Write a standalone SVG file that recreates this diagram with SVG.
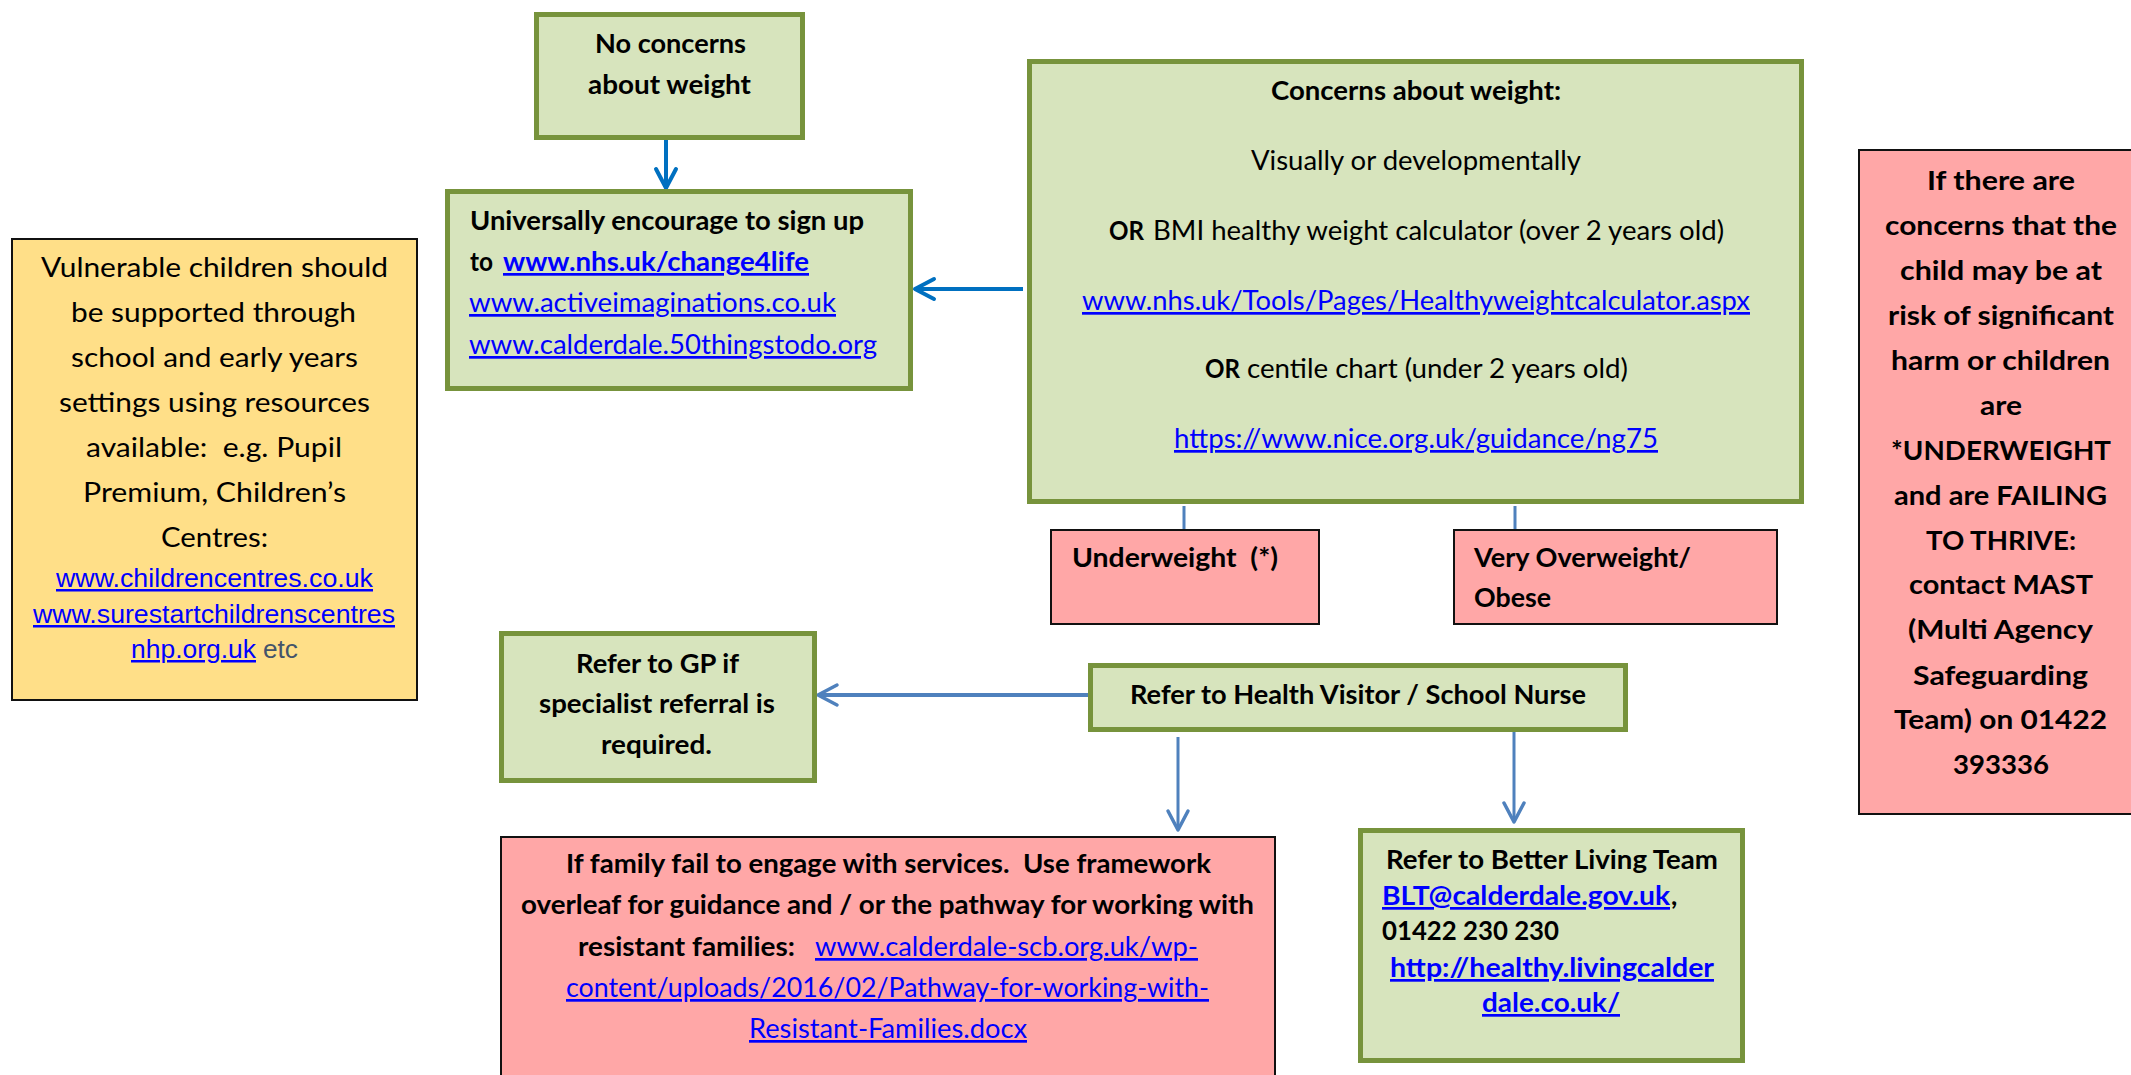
<svg xmlns="http://www.w3.org/2000/svg" width="2131" height="1075" viewBox="0 0 2131 1075">
<style>
.g{fill:#D7E4BD;stroke:#77933C;stroke-width:5}
.p{fill:#FFA7A7;stroke:#111;stroke-width:2}
.y{fill:#FFDF88;stroke:#111;stroke-width:2}
text{font-family:Lato,"Open Sans",sans-serif;font-size:27px;fill:#000}
.b{font-weight:700}
.l{fill:#0000FF;text-decoration:underline}
.a{font-family:"Liberation Sans",Arial,sans-serif;font-size:25px}
.c1{stroke:#0070C0;stroke-width:4;fill:none}
.c2{stroke:#4F81BD;stroke-width:4;fill:none}
.c3{stroke:#4F81BD;stroke-width:3;fill:none}
</style>
<defs>
<marker id="m1" markerUnits="userSpaceOnUse" viewBox="-25 -15 30 30" markerWidth="30" markerHeight="30" refX="0" refY="0" orient="auto" overflow="visible">
<path d="M-19,-10 L0,0 L-19,10" fill="none" stroke="#0070C0" stroke-width="4" stroke-linecap="round" stroke-linejoin="round"/>
</marker>
<marker id="m2" markerUnits="userSpaceOnUse" viewBox="-25 -15 30 30" markerWidth="30" markerHeight="30" refX="0" refY="0" orient="auto" overflow="visible">
<path d="M-19,-10 L0,0 L-19,10" fill="none" stroke="#4F81BD" stroke-width="3.5" stroke-linecap="round" stroke-linejoin="round"/>
</marker>
</defs>
<rect width="2131" height="1075" fill="#fff"/>

<g id="connectors">
<line class="c1" x1="666" y1="140" x2="666" y2="188" marker-end="url(#m1)"/>
<line class="c1" x1="1023" y1="289" x2="915" y2="289" marker-end="url(#m1)"/>
<line class="c3" x1="1184" y1="506" x2="1184" y2="529"/>
<line class="c3" x1="1515" y1="506" x2="1515" y2="529"/>
<line class="c2" x1="1088" y1="695" x2="818" y2="695" marker-end="url(#m2)"/>
<line class="c3" x1="1178" y1="737" x2="1178" y2="830" marker-end="url(#m2)"/>
<line class="c3" x1="1514" y1="732" x2="1514" y2="822" marker-end="url(#m2)"/>
</g>

<g id="no-concerns">
<rect class="g" x="536.5" y="14.5" width="266" height="123"/>
<text class="b" x="595" y="53" textLength="151" lengthAdjust="spacingAndGlyphs">No concerns</text>
<text class="b" x="588" y="94" textLength="163" lengthAdjust="spacingAndGlyphs">about weight</text>
</g>

<g id="universally">
<rect class="g" x="447.5" y="191.5" width="463" height="197"/>
<text class="b" x="470" y="230" textLength="394" lengthAdjust="spacingAndGlyphs">Universally encourage to sign up</text>
<text class="b" x="470" y="271" textLength="23" lengthAdjust="spacingAndGlyphs">to</text>
<text class="b l" x="503" y="271" textLength="306" lengthAdjust="spacingAndGlyphs">www.nhs.uk/change4life</text>
<text class="l" x="469" y="312" textLength="367" lengthAdjust="spacingAndGlyphs">www.activeimaginations.co.uk</text>
<text class="l" x="469" y="354" textLength="408" lengthAdjust="spacingAndGlyphs">www.calderdale.50thingstodo.org</text>
</g>

<g id="concerns">
<rect class="g" x="1029.5" y="61.5" width="772" height="440"/>
<text class="b" x="1271" y="100" textLength="290" lengthAdjust="spacingAndGlyphs">Concerns about weight:</text>
<text x="1251" y="170" textLength="330" lengthAdjust="spacingAndGlyphs">Visually or developmentally</text>
<text class="b" x="1109" y="240" textLength="35" lengthAdjust="spacingAndGlyphs">OR</text>
<text x="1153" y="240" textLength="571" lengthAdjust="spacingAndGlyphs">BMI healthy weight calculator (over 2 years old)</text>
<text class="l" x="1082" y="310" textLength="668" lengthAdjust="spacingAndGlyphs">www.nhs.uk/Tools/Pages/Healthyweightcalculator.aspx</text>
<text class="b" x="1205" y="378" textLength="35" lengthAdjust="spacingAndGlyphs">OR</text>
<text x="1247" y="378" textLength="381" lengthAdjust="spacingAndGlyphs">centile chart (under 2 years old)</text>
<text class="l" x="1174" y="448" textLength="484" lengthAdjust="spacingAndGlyphs">https://www.nice.org.uk/guidance/ng75</text>
</g>

<g id="vulnerable">
<rect class="y" x="12" y="239" width="405" height="461"/>
<text x="41" y="277" textLength="347" lengthAdjust="spacingAndGlyphs">Vulnerable children should</text>
<text x="71" y="322" textLength="285" lengthAdjust="spacingAndGlyphs">be supported through</text>
<text x="71" y="367" textLength="287" lengthAdjust="spacingAndGlyphs">school and early years</text>
<text x="59" y="412" textLength="311" lengthAdjust="spacingAndGlyphs">settings using resources</text>
<text x="86" y="457" textLength="256" lengthAdjust="spacingAndGlyphs" xml:space="preserve">available:  e.g. Pupil</text>
<text x="83" y="502" textLength="263" lengthAdjust="spacingAndGlyphs">Premium, Children’s</text>
<text x="161" y="547" textLength="107" lengthAdjust="spacingAndGlyphs">Centres:</text>
<text class="a l" x="56" y="587" textLength="317" lengthAdjust="spacingAndGlyphs">www.childrencentres.co.uk</text>
<text class="a l" x="33" y="623" textLength="362" lengthAdjust="spacingAndGlyphs">www.surestartchildrenscentres</text>
<text class="a l" x="131" y="658" textLength="125" lengthAdjust="spacingAndGlyphs">nhp.org.uk</text>
<text class="a" x="263" y="658" textLength="35" lengthAdjust="spacingAndGlyphs" style="fill:#44546A">etc</text>
</g>

<g id="mast">
<rect class="p" x="1859" y="150" width="290" height="664"/>
<text class="b" x="1927" y="190" textLength="148" lengthAdjust="spacingAndGlyphs">If there are</text>
<text class="b" x="1885" y="235" textLength="232" lengthAdjust="spacingAndGlyphs">concerns that the</text>
<text class="b" x="1900" y="280" textLength="202" lengthAdjust="spacingAndGlyphs">child may be at</text>
<text class="b" x="1888" y="325" textLength="226" lengthAdjust="spacingAndGlyphs">risk of significant</text>
<text class="b" x="1891" y="370" textLength="219" lengthAdjust="spacingAndGlyphs">harm or children</text>
<text class="b" x="1980" y="415" textLength="42" lengthAdjust="spacingAndGlyphs">are</text>
<text class="b" x="1891" y="460" textLength="220" lengthAdjust="spacingAndGlyphs">*UNDERWEIGHT</text>
<text class="b" x="1894" y="505" textLength="213" lengthAdjust="spacingAndGlyphs">and are FAILING</text>
<text class="b" x="1926" y="550" textLength="150" lengthAdjust="spacingAndGlyphs">TO THRIVE:</text>
<text class="b" x="1909" y="594" textLength="184" lengthAdjust="spacingAndGlyphs">contact MAST</text>
<text class="b" x="1908" y="639" textLength="185" lengthAdjust="spacingAndGlyphs">(Multi Agency</text>
<text class="b" x="1913" y="685" textLength="175" lengthAdjust="spacingAndGlyphs">Safeguarding</text>
<text class="b" x="1894" y="729" textLength="213" lengthAdjust="spacingAndGlyphs">Team) on 01422</text>
<text class="b" x="1953" y="774" textLength="96" lengthAdjust="spacingAndGlyphs">393336</text>
</g>

<g id="underweight">
<rect class="p" x="1051" y="530" width="268" height="94"/>
<text class="b" x="1072" y="567" textLength="206" lengthAdjust="spacingAndGlyphs" xml:space="preserve">Underweight  (*)</text>
</g>

<g id="overweight">
<rect class="p" x="1454" y="530" width="323" height="94"/>
<text class="b" x="1474" y="567" textLength="217" lengthAdjust="spacingAndGlyphs">Very Overweight/</text>
<text class="b" x="1474" y="607" textLength="77" lengthAdjust="spacingAndGlyphs">Obese</text>
</g>

<g id="gp">
<rect class="g" x="501.5" y="633.5" width="313" height="147"/>
<text class="b" x="576" y="673" textLength="163" lengthAdjust="spacingAndGlyphs">Refer to GP if</text>
<text class="b" x="539" y="713" textLength="236" lengthAdjust="spacingAndGlyphs">specialist referral is</text>
<text class="b" x="601" y="754" textLength="111" lengthAdjust="spacingAndGlyphs">required.</text>
</g>

<g id="health-visitor">
<rect class="g" x="1090.5" y="665.5" width="535" height="64"/>
<text class="b" x="1130" y="704" textLength="456" lengthAdjust="spacingAndGlyphs">Refer to Health Visitor / School Nurse</text>
</g>

<g id="family">
<rect class="p" x="501" y="837" width="774" height="250"/>
<text class="b" x="566" y="873" textLength="645" lengthAdjust="spacingAndGlyphs" xml:space="preserve">If family fail to engage with services.  Use framework</text>
<text class="b" x="521" y="914" textLength="733" lengthAdjust="spacingAndGlyphs">overleaf for guidance and / or the pathway for working with</text>
<text class="b" x="578" y="956" textLength="217" lengthAdjust="spacingAndGlyphs">resistant families:</text>
<text class="l" x="815" y="956" textLength="383" lengthAdjust="spacingAndGlyphs">www.calderdale-scb.org.uk/wp-</text>
<text class="l" x="566" y="997" textLength="643" lengthAdjust="spacingAndGlyphs">content/uploads/2016/02/Pathway-for-working-with-</text>
<text class="l" x="749" y="1038" textLength="278" lengthAdjust="spacingAndGlyphs">Resistant-Families.docx</text>
</g>

<g id="better-living">
<rect class="g" x="1360.5" y="830.5" width="382" height="230"/>
<text class="b" x="1386" y="869" textLength="332" lengthAdjust="spacingAndGlyphs">Refer to Better Living Team</text>
<text class="b l" x="1382" y="905" textLength="288" lengthAdjust="spacingAndGlyphs">BLT@calderdale.gov.uk</text>
<text class="b" x="1671" y="905">,</text>
<text class="b" x="1382" y="940" textLength="177" lengthAdjust="spacingAndGlyphs">01422 230 230</text>
<text class="b l" x="1390" y="977" textLength="324" lengthAdjust="spacingAndGlyphs">http://healthy.livingcalder</text>
<text class="b l" x="1482" y="1012" textLength="138" lengthAdjust="spacingAndGlyphs">dale.co.uk/</text>
</g>
</svg>
